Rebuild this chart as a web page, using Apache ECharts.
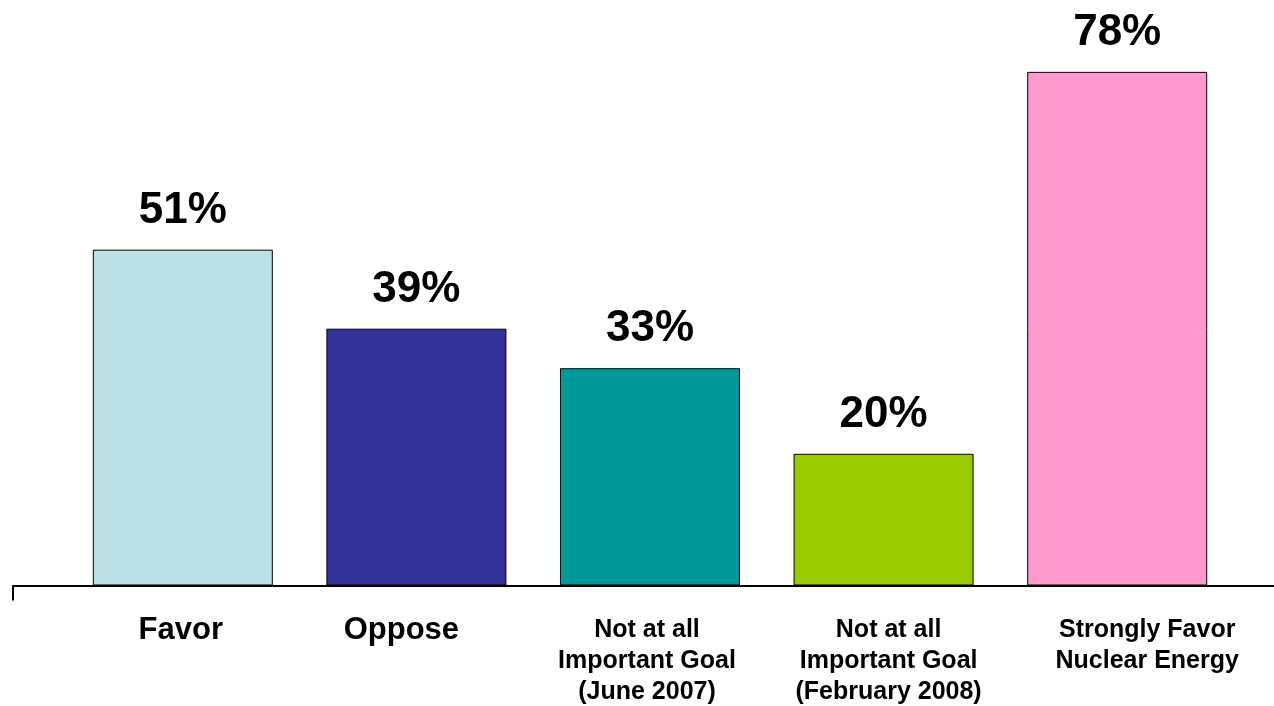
<!DOCTYPE html>
<html>
<head>
<meta charset="utf-8">
<script src="https://cdn.jsdelivr.net/npm/echarts@6/dist/echarts.min.js"></script>
<style>
html,body{margin:0;padding:0;background:#fff;}
#chart{width:1274px;height:706px;}
</style>
</head>
<body>
<div id="chart"></div>
<script>
const categories = [
  'Favor',
  'Oppose',
  'Not at all\nImportant Goal\n(June 2007)',
  'Not at all\nImportant Goal\n(February 2008)',
  'Strongly Favor\nNuclear Energy'
];
const values = [51, 39, 33, 20, 78];
const barColors = ['#BAE0E3', '#333399', '#009999', '#99CC00', '#FF99CC'];
const labelKeys = ['fav', 'opp', 'jun', 'feb', 'str'];

const chart = echarts.init(document.getElementById('chart'), null, {renderer: 'canvas'});
const FONT = '"Liberation Sans", Arial, Helvetica, sans-serif';

function shiftStyle(size, shift) {
  const s = {fontFamily: FONT, fontWeight: 'bold', fontSize: size, lineHeight: 31, color: '#000'};
  if (shift > 0) s.padding = [0, 0, 0, 2 * shift];
  else if (shift < 0) s.padding = [0, -2 * shift, 0, 0];
  return s;
}

const option = {
  backgroundColor: '#ffffff',
  animation: false,
  grid: [
    {left: 66, right: 40, top: 58.7, bottom: 120.5, containLabel: false},
    {left: 13, right: 0, top: 58.7, bottom: 120.5, containLabel: false}
  ],
  xAxis: [
    {
      type: 'category',
      gridIndex: 0,
      data: categories,
      axisLine: {show: false},
      axisTick: {show: false},
      axisLabel: {
        interval: 0,
        margin: 29,
        formatter: function (value, index) {
          const key = labelKeys[index];
          return value.split('\n').map(l => '{' + key + '|' + l + '}').join('\n');
        },
        rich: {
          fav: shiftStyle(31, -2),
          opp: shiftStyle(31, -15),
          jun: shiftStyle(25, -3),
          feb: shiftStyle(25, 5),
          str: shiftStyle(25, 30)
        }
      }
    },
    {
      type: 'value',
      gridIndex: 1,
      min: 0,
      max: 1,
      interval: 1,
      axisLine: {show: true, lineStyle: {color: '#000', width: 2}},
      axisTick: {show: true, customValues: [0], length: 15, lineStyle: {color: '#000', width: 2}},
      axisLabel: {show: false},
      splitLine: {show: false}
    }
  ],
  yAxis: [
    {
      type: 'value',
      gridIndex: 0,
      min: 0,
      max: 80,
      show: false,
      splitLine: {show: false}
    },
    {
      type: 'value',
      gridIndex: 1,
      min: 0,
      max: 1,
      show: false,
      splitLine: {show: false}
    }
  ],
  series: [
    {
      type: 'bar',
      xAxisIndex: 0,
      yAxisIndex: 0,
      barWidth: 180,
      data: values.map((v, i) => ({
        value: v,
        itemStyle: {color: barColors[i]}
      })),
      itemStyle: {borderColor: '#000', borderWidth: 1},
      label: {
        show: true,
        position: 'top',
        distance: 17,
        formatter: '{c}%',
        fontFamily: FONT,
        fontWeight: 'bold',
        fontSize: 44,
        color: '#000'
      }
    }
  ]
};
chart.setOption(option);
</script>
</body>
</html>
